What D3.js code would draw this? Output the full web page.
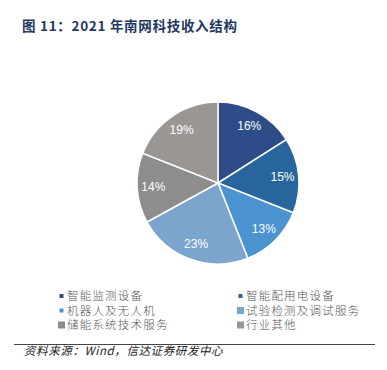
<!DOCTYPE html>
<html>
<head>
<meta charset="utf-8">
<script src="https://cdn.jsdelivr.net/npm/d3@7"></script>
<style>
  body { margin: 0; background: #fff; }
  #chart { width: 387px; height: 370px; }
</style>
</head>
<body>
<div id="chart"></div>
<script>
var categories = ["智能监测设备", "智能配用电设备", "机器人及无人机", "试验检测及调试服务", "储能系统技术服务", "行业其他"];
var shares = [16, 15, 13, 23, 14, 19];
var colors = ["#2d4c88", "#28659c", "#4b93d1", "#7ba5cc", "#8d8d8d", "#9a9694"];
var markerSize = [4, 4, 4, 7, 7, 7];

var container = d3.select("#chart");
var width = 387, height = 370;
var svg = container.append("svg").attr("width", width).attr("height", height);

// title
svg.append("text")
  .attr("x", 22).attr("y", 31)
  .attr("font-family", "'Noto Sans CJK SC', sans-serif")
  .attr("font-weight", "bold")
  .attr("font-size", 13.5)
  .attr("letter-spacing", 0.7)
  .attr("fill", "#1f3864")
  .text("图 11：2021 年南网科技收入结构");

// pie
var cx = 218, cy = 183, r = 81;
var pie = d3.pie().sort(null).value(d => d);
var arcs = pie(shares);
var arc = d3.arc().innerRadius(0).outerRadius(r);
var labelArc = d3.arc().innerRadius(r * 0.8).outerRadius(r * 0.8);

var g = svg.append("g").attr("transform", "translate(" + cx + "," + cy + ")");
g.selectAll("path")
  .data(arcs)
  .enter()
  .append("path")
  .attr("d", arc)
  .attr("fill", (d, i) => colors[i])
  .attr("stroke", "#fff")
  .attr("stroke-width", 1.5);

g.selectAll("text")
  .data(arcs)
  .enter()
  .append("text")
  .attr("transform", d => "translate(" + labelArc.centroid(d) + ")")
  .attr("text-anchor", "middle")
  .attr("dy", "0.35em")
  .attr("font-family", "'Liberation Sans', Arial, sans-serif")
  .attr("font-size", 12)
  .attr("fill", "#fff")
  .text(d => d.data + "%");

// legend
var legX = d3.scaleOrdinal().domain([0, 1]).range([58, 237]);
var legY = d3.scalePoint().domain([0, 1, 2]).range([296, 325]);
var leg = svg.append("g");
var items = leg.selectAll("g")
  .data(categories)
  .enter()
  .append("g")
  .attr("transform", (d, i) => "translate(" + legX(i % 2) + "," + legY(Math.floor(i / 2)) + ")");
items.append("rect")
  .attr("x", (d, i) => 3.5 - markerSize[i] / 2)
  .attr("y", (d, i) => -markerSize[i] / 2)
  .attr("width", (d, i) => markerSize[i])
  .attr("height", (d, i) => markerSize[i])
  .attr("fill", (d, i) => colors[i]);
items.append("text")
  .attr("x", 9)
  .attr("dy", "0.35em")
  .attr("font-family", "'Noto Sans CJK SC', sans-serif")
  .attr("font-weight", 300)
  .attr("font-size", 11.5)
  .attr("letter-spacing", 1.2)
  .attr("fill", "#555")
  .text(d => d);

// source
svg.append("line")
  .attr("x1", 14).attr("x2", 375)
  .attr("y1", 344.5).attr("y2", 344.5)
  .attr("stroke", "#444").attr("stroke-width", 1);
svg.append("text")
  .attr("x", 24).attr("y", 355)
  .attr("font-family", "'Noto Sans CJK SC', sans-serif")
  .attr("font-style", "italic")
  .attr("font-size", 11.5)
  .attr("letter-spacing", 0.6)
  .attr("fill", "#222")
  .text("资料来源：Wind，信达证券研发中心");
</script>
</body>
</html>
